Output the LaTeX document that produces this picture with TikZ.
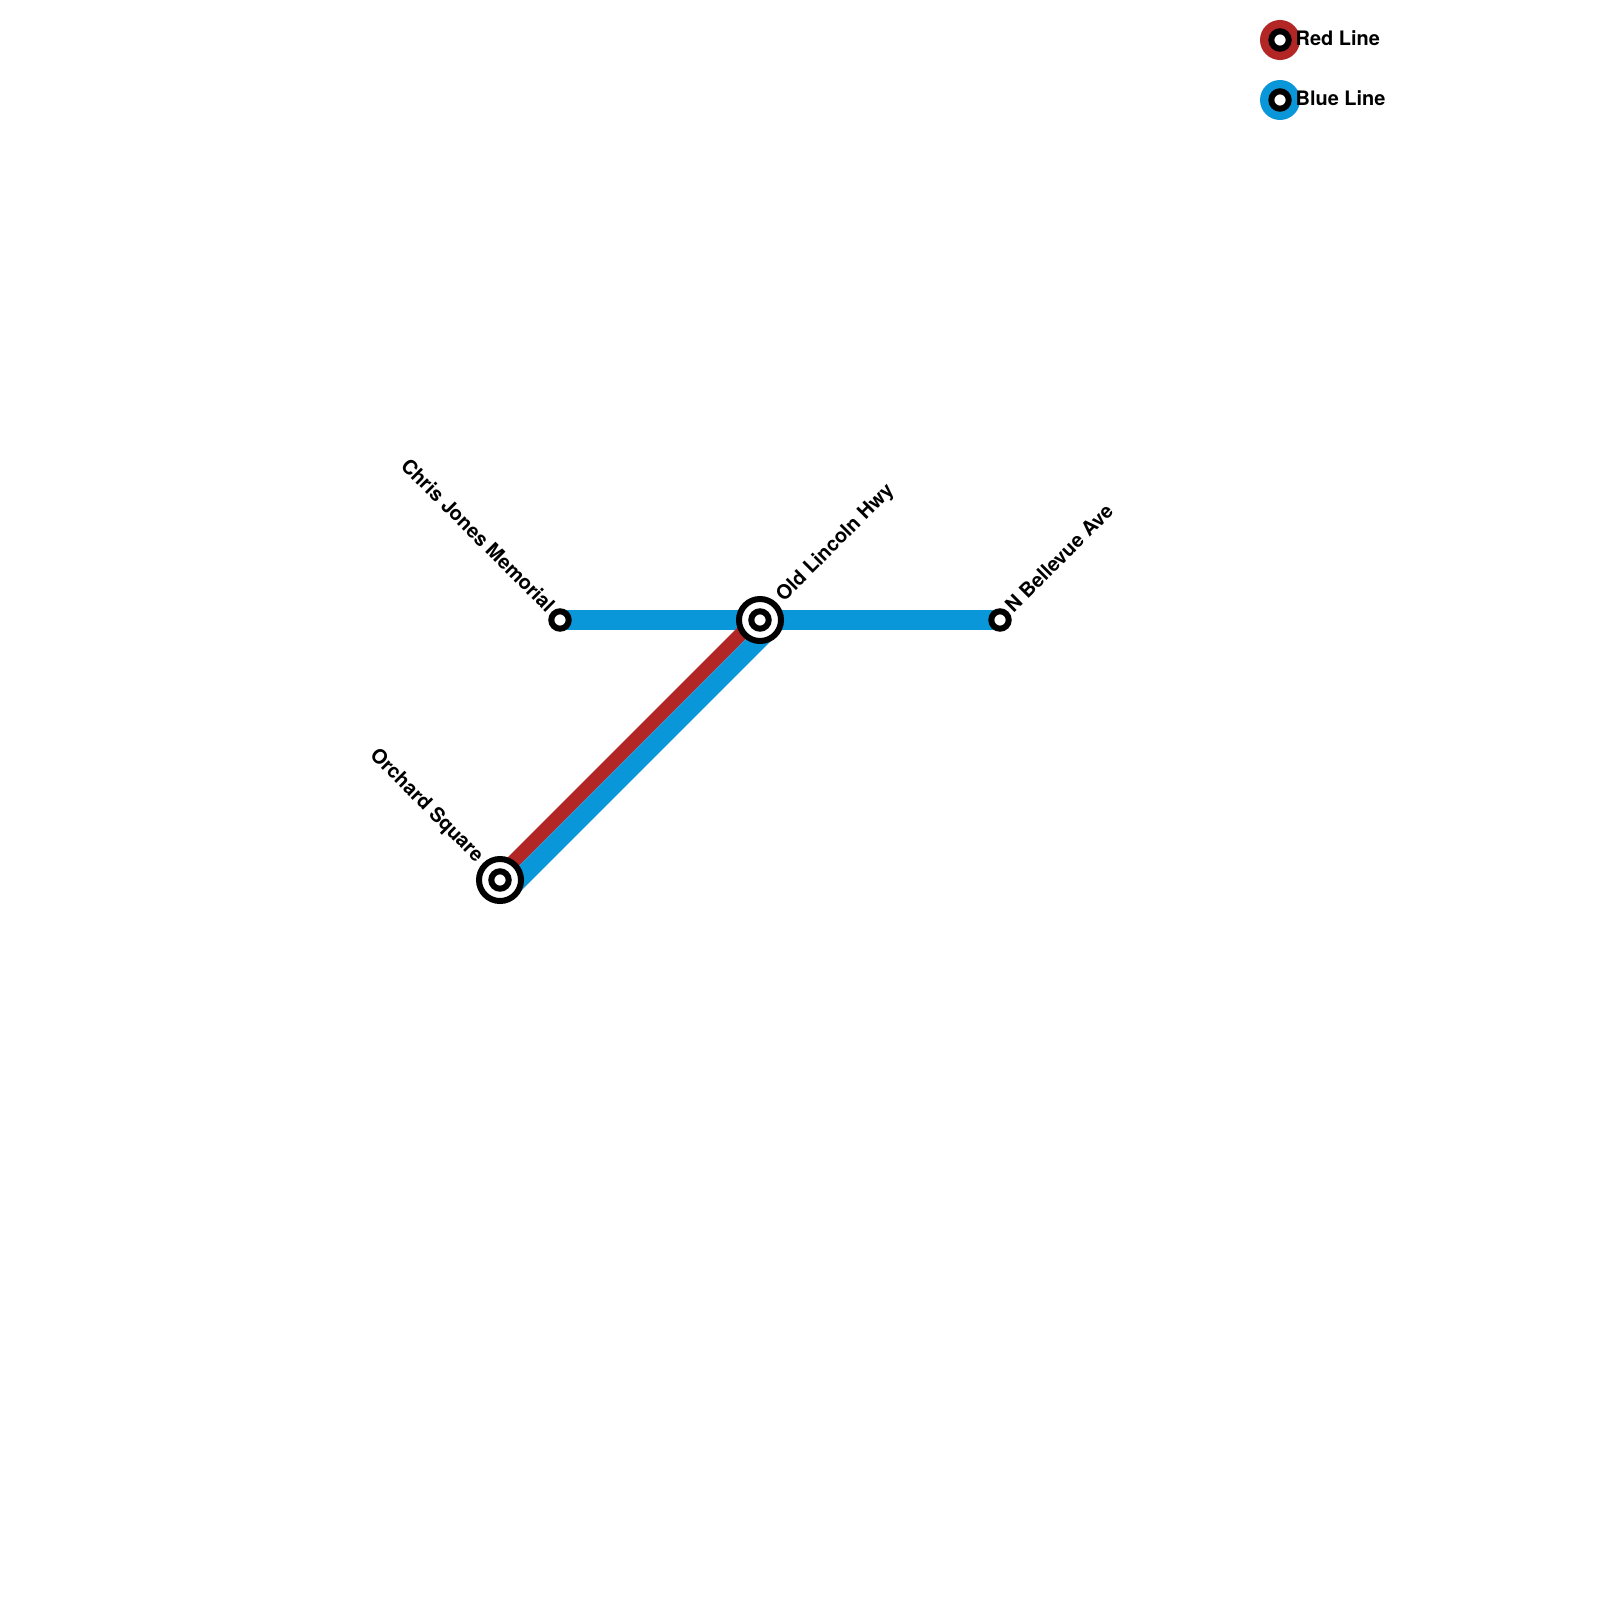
\documentclass[tikz,border=0pt]{standalone}
\usepackage{fontspec}
\setmainfont{TeX Gyre Heros}
\usetikzlibrary{backgrounds}

\definecolor{redline}{HTML}{B22626}
\definecolor{blueline}{HTML}{0A97D9}

\begin{document}
\begin{tikzpicture}[
  x=0.01cm,
  y=-0.01cm,
  font=\fontsize{5.67pt}{6.8pt}\selectfont\bfseries,
  station/.style={circle,draw=black,fill=white,line width=0.06cm,minimum size=0.174cm,inner sep=0pt},
  interchange/.style={circle,draw=black,fill=white,line width=0.06cm,minimum size=0.42cm,inner sep=0pt},
  legenddot/.style={circle,minimum size=0.4cm,inner sep=0pt},
  stationlabel/.style={inner sep=0pt},
  legendlabel/.style={anchor=west,inner sep=0pt},
  bluetrack/.style={draw=blueline,line width=0.2cm},
  diagblue/.style={draw=blueline,line width=0.19cm},
  diagred/.style={draw=redline,line width=0.141cm}
]
\useasboundingbox (0,0) rectangle (1600,1600);

% Stations
\node[station] (chris) at (560,620) {};
\node[interchange] (lincolnring) at (760,620) {};
\node[station] (lincoln) at (760,620) {};
\node[station] (bellevue) at (1000,620) {};
\node[interchange] (orchardring) at (500,880) {};
\node[station] (orchard) at (500,880) {};

% Tracks
\begin{scope}[on background layer]
  \draw[bluetrack] (chris.center) -- (lincoln.center);
  \draw[bluetrack] (lincoln.center) -- (bellevue.center);
  \draw[diagred] ([shift={(-2.5,-2.5)}]orchard.center) -- ([shift={(-2.5,-2.5)}]lincoln.center);
  \draw[diagblue] ([shift={(9.15,9.15)}]orchard.center) -- ([shift={(9.15,9.15)}]lincoln.center);
\end{scope}

% Station names
\node[stationlabel,anchor=east,rotate=-45] (chrislabel) at (552,609) {Chris Jones Memorial};
\node[stationlabel,anchor=west,rotate=45] (lincolnlabel) at (780,599) {Old Lincoln Hwy};
\node[stationlabel,anchor=west,rotate=45] (bellevuelabel) at (1008,609) {N Bellevue Ave};
\node[stationlabel,anchor=east,rotate=-45] (orchardlabel) at (480,860) {Orchard Square};

% Legend
\node[legenddot,fill=redline] (reddot) at (1280,40) {};
\node[station] (redstop) at (1280,40) {};
\node[legendlabel] (redlabel) at (1295,38) {Red Line};
\node[legenddot,fill=blueline] (bluedot) at (1280,100) {};
\node[station] (bluestop) at (1280,100) {};
\node[legendlabel] (bluelabel) at (1295,98) {Blue Line};

\end{tikzpicture}
\end{document}
